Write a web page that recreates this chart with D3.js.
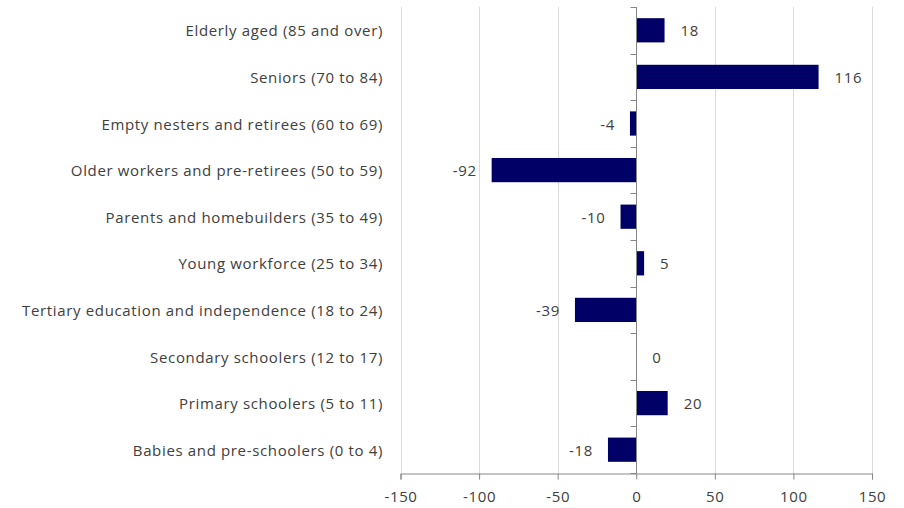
<!DOCTYPE html>
<html>
<head>
<meta charset="utf-8">
<script src="https://cdn.jsdelivr.net/npm/d3@7"></script>
<style>
  body { margin: 0; background: #fff; }
  svg text { font-family: "Open Sans", sans-serif; fill: #404040; letter-spacing: 0.65px; }
</style>
</head>
<body>
<div id="chart"></div>
<script>
const categories = [
    "Elderly aged (85 and over)",
    "Seniors (70 to 84)",
    "Empty nesters and retirees (60 to 69)",
    "Older workers and pre-retirees (50 to 59)",
    "Parents and homebuilders (35 to 49)",
    "Young workforce (25 to 34)",
    "Tertiary education and independence (18 to 24)",
    "Secondary schoolers (12 to 17)",
    "Primary schoolers (5 to 11)",
    "Babies and pre-schoolers (0 to 4)"
];
const changes = [18, 116, -4, -92, -10, 5, -39, 0, 20, -18];
const xTicks = [-150, -100, -50, 0, 50, 100, 150];

const WIDTH = 904, HEIGHT = 508;
const FONT_SIZE = "15px";
const margin = {top: 7, right: 32, bottom: 35, left: 400.5};

const svg = d3.select("#chart").append("svg")
    .attr("width", WIDTH)
    .attr("height", HEIGHT);

const x = d3.scaleLinear().domain([-150, 150]).range([margin.left, WIDTH - margin.right]);
const y = d3.scaleBand().domain(categories).range([margin.top, HEIGHT - margin.bottom]).paddingInner(0.48).paddingOuter(0.24);
const band = d3.scaleBand().domain(categories).range([margin.top, HEIGHT - margin.bottom]);

// gridlines
svg.append("g").selectAll("line").data(xTicks.filter(d => d !== 0)).join("line")
    .attr("x1", d => Math.round(x(d)) + 0.5).attr("x2", d => Math.round(x(d)) + 0.5)
    .attr("y1", margin.top).attr("y2", HEIGHT - margin.bottom)
    .attr("stroke", "#d9d9d9").attr("stroke-width", 1);

// bars
svg.append("g").selectAll("rect").data(changes).join("rect")
    .attr("x", d => x(Math.min(0, d)))
    .attr("width", d => Math.abs(x(d) - x(0)))
    .attr("y", (d, i) => y(categories[i]))
    .attr("height", y.bandwidth())
    .attr("fill", "#000066");

// value labels
svg.append("g").selectAll("text").data(changes).join("text")
    .attr("x", d => d >= 0 ? x(d) + 16 : x(d) - 15)
    .attr("y", (d, i) => y(categories[i]) + y.bandwidth() / 2)
    .attr("dy", "0.4em")
    .attr("text-anchor", d => d >= 0 ? "start" : "end")
    .attr("font-size", FONT_SIZE)
    .text(d => d);

// x axis
const xAxis = svg.append("g")
    .attr("transform", `translate(0,${HEIGHT - margin.bottom + 0.5})`)
    .call(d3.axisBottom(x).tickValues(xTicks).tickFormat(d => String(d)).tickSize(6).tickSizeOuter(6));
xAxis.selectAll("path, line").attr("stroke", "#868686");
xAxis.selectAll("text").attr("font-size", FONT_SIZE).attr("dy", "1.3em")
    .style("font-family", "'Open Sans', sans-serif").attr("fill", "#404040");

// zero axis with category ticks
const zeroAxis = svg.append("g")
    .attr("transform", `translate(${Math.round(x(0)) + 0.5},0)`);
zeroAxis.append("line")
    .attr("y1", margin.top).attr("y2", HEIGHT - margin.bottom)
    .attr("stroke", "#868686");
zeroAxis.selectAll("line.tk").data(d3.range(categories.length + 1)).join("line")
    .attr("class", "tk")
    .attr("x1", -6).attr("x2", 0)
    .attr("y1", i => Math.round(margin.top + i * band.step()) + 0.5)
    .attr("y2", i => Math.round(margin.top + i * band.step()) + 0.5)
    .attr("stroke", "#868686");

// category labels
svg.append("g").selectAll("text").data(categories).join("text")
    .attr("x", 383)
    .attr("y", d => band(d) + band.bandwidth() / 2)
    .attr("dy", "0.4em")
    .attr("text-anchor", "end")
    .attr("font-size", FONT_SIZE)
    .text(d => d);
</script>
</body>
</html>
